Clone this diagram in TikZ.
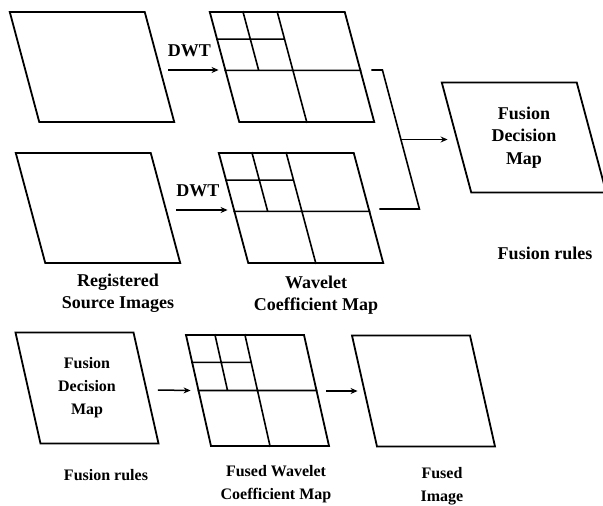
\documentclass[tikz,border=0pt]{standalone}
\usepackage{fontspec}
\setmainfont{Liberation Serif}
\usetikzlibrary{arrows.meta,positioning,calc,shapes.geometric}
\tikzset{
  img/.style={trapezium,trapezium left angle=105,trapezium right angle=75,draw,line width=1.8pt,inner sep=0pt,text width=105.5pt,text height=55pt,text depth=55pt},
  imgs/.style={img,trapezium left angle=102.7,trapezium right angle=77.3,text width=93pt,text height=55.5pt,text depth=55.5pt},
  lbl/.style={align=center,inner sep=0pt,font=\fontsize{18}{22.5}\selectfont\bfseries},
  lbls/.style={lbl,font=\fontsize{16}{23}\selectfont\bfseries},
  arr/.style={-{Stealth[length=7pt,width=6pt]},line width=1.5pt},
  wire/.style={line width=1.6pt},
  grd/.style={line width=1.6pt},
}
% sub-band split of a coefficient map: #1 node, #2 height of the main cut
\newcommand{\subbands}[2]{%
  \coordinate (#1-l) at ($(#1.top left corner)!#2!(#1.bottom left corner)$);
  \coordinate (#1-r) at ($(#1.top right corner)!#2!(#1.bottom right corner)$);
  \coordinate (#1-t) at ($(#1.top left corner)!0.5!(#1.top right corner)$);
  \coordinate (#1-b) at ($(#1.bottom left corner)!0.5!(#1.bottom right corner)$);
  \coordinate (#1-q) at ($(#1.top left corner)!0.25!(#1.top right corner)$);
  \coordinate (#1-m) at ($(#1-l)!0.25!(#1-r)$);
  \coordinate (#1-h) at ($(#1.top left corner)!0.25!(#1.bottom left corner)$);
  \coordinate (#1-k) at ($(#1-t)!0.25!(#1-b)$);
  \draw[grd] (#1-l) -- (#1-r) (#1-t) -- (#1-b) (#1-q) -- (#1-m) (#1-h) -- (#1-k);
}
\begin{document}
\begin{tikzpicture}[x=1pt,y=-1pt]
  \useasboundingbox (0,0) rectangle (603,506);
  % decomposition of the two source images
  \node[img] (src1) at (92,67) {};
  \node[img] (wc1) at (292,67) {};
  \node[img] (src2) at (98,208) {};
  \node[img] (wc2) at (301,208) {};
  \subbands{wc1}{0.53}
  \subbands{wc2}{0.53}
  \draw[arr] ([shift={(8,3)}]src1.east) -- ([shift={(-5,3)}]wc1.west)
    node[lbl,midway,above=12pt,xshift=-4pt] (dwt1) {DWT};
  \draw[arr] ([shift={(10,2)}]src2.east) -- ([shift={(-5,2)}]wc2.west)
    node[lbl,midway,above=12pt,xshift=-4pt] (dwt2) {DWT};
  \node[lbl] (reg) at (118,293) {Registered\\Source Images};
  \node[lbl] (wcl) at (316,295) {Wavelet\\Coefficient Map};
  % merging into the decision map
  \node[img] (fdm) at (524,137.5) {};
  \node[lbl] (fdmt) at (fdm) {Fusion\\Decision\\Map};
  \coordinate (bt) at ([shift={(22,3)}]wc1.east);
  \coordinate (bb) at ([shift={(50,1)}]wc2.east);
  \draw[wire] ([shift={(11,3)}]wc1.east) -- (bt) -- (bb) -- ([shift={(10,1)}]wc2.east);
  \coordinate (bm) at ($(bt)!0.5!(bb)$);
  \draw[arr,shorten >=8pt] (bm) -- (bm -| fdm.west);
  \node[lbl] (rules1) at (545,253) {Fusion rules};
  % reconstruction
  \node[imgs] (fdm2) at (87,388) {};
  \node[lbls] (fdm2t) at (fdm2) {Fusion\\Decision\\Map};
  \node[imgs] (fwc) at (257.5,390.5) {};
  \node[imgs] (fim) at (423.5,391) {};
  \subbands{fwc}{0.5}
  \draw[arr] ([shift={(11,2)}]fdm2.east) -- ([shift={(-7,0)}]fwc.west);
  \draw[arr] ([shift={(9,0.5)}]fwc.east) -- ([shift={(-6,0)}]fim.west);
  \node[lbls] (rules2) at (106,475) {Fusion rules};
  \node[lbls] (fwcl) at (276,484) {Fused Wavelet\\Coefficient Map};
  \node[lbls] (fiml) at (442,486) {Fused\\Image};
\end{tikzpicture}
\end{document}
